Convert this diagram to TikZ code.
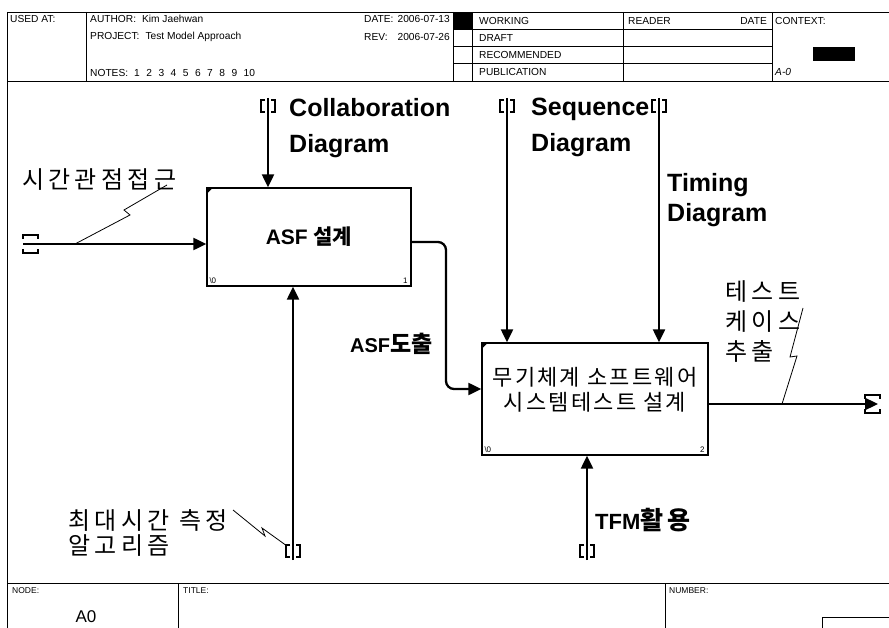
\documentclass[tikz,border=0pt]{standalone}
\usepackage{fontspec}
\setmainfont{Liberation Sans}
\newfontfamily\kr{Noto Sans CJK KR}
\newfontfamily\krw[LetterSpace=18]{Noto Sans CJK KR}
\newfontfamily\krm[LetterSpace=10]{Noto Sans CJK KR}
\usetikzlibrary{arrows.meta}
\newcommand\vtun[2]{%
  \draw[tun] (#1-3,#2-6) -- (#1-7,#2-6) -- (#1-7,#2+6) -- (#1-3,#2+6);
  \draw[tun] (#1+3,#2-6) -- (#1+7,#2-6) -- (#1+7,#2+6) -- (#1+3,#2+6);}
\begin{document}
\begin{tikzpicture}[x=1pt,y=-1pt,
  frame/.style={line width=0.9pt},
  hdr/.style={font=\fontsize{10.2}{12}\selectfont, inner sep=0pt, anchor=west},
  ftr/.style={font=\fontsize{8.5}{10}\selectfont, inner sep=0pt, anchor=west},
  box/.style={draw, line width=1.4pt, inner sep=0pt},
  flow/.style={line width=2.3pt, -{Triangle[length=13pt,width=12pt]}},
  tun/.style={line width=1.8pt},
  squig/.style={line width=0.8pt},
  corner/.style={font=\fontsize{8}{9}\selectfont, inner sep=0pt},
  biglab/.style={font=\fontsize{25}{36}\selectfont\bfseries, inner sep=0pt, align=left},
  krlab/.style={inner sep=0pt, align=left}]
\useasboundingbox (0,0) rectangle (889,628);

% ---------- frame / header ----------
\draw[frame] (7,12) -- (889,12);
\draw[frame] (7,81) -- (889,81);
\draw[frame] (7,12) -- (7,628);
\foreach \xx in {86,453,472,623,772} \draw[frame] (\xx,12) -- (\xx,81);
\foreach \yy in {29,46,63} \draw[frame] (453,\yy) -- (772,\yy);
\fill (453,12) rectangle (472,29);
\fill (813,47) rectangle (855,61);

\node[hdr] (usedat) at (10,19) {USED AT:};
\node[hdr] (author) at (90,19) {AUTHOR:\hspace{6pt}Kim Jaehwan};
\node[hdr] (project) at (90,37) {PROJECT:\hspace{6pt}Test Model Approach};
\node[hdr] (notes) at (90,73) {NOTES:\hspace{6pt}1\hspace{6.5pt}2\hspace{6.5pt}3\hspace{6.5pt}4\hspace{6.5pt}5\hspace{6.5pt}6\hspace{6.5pt}7\hspace{6.5pt}8\hspace{6.5pt}9\hspace{6.5pt}10};
\node[hdr] (datel) at (364,19) {DATE:};
\node[hdr, anchor=east] (datev) at (450,19) {2006-07-13};
\node[hdr] (revl) at (364,37) {REV:};
\node[hdr, anchor=east] (revv) at (450,37) {2006-07-26};
\node[hdr] (working) at (479,20.5) {WORKING};
\node[hdr] (draft) at (479,38) {DRAFT};
\node[hdr] (recom) at (479,55) {RECOMMENDED};
\node[hdr] (public) at (479,72) {PUBLICATION};
\node[hdr] (reader) at (628,20.5) {READER};
\node[hdr, anchor=east] (rdate) at (767,20.5) {DATE};
\node[hdr] (context) at (775,20.5) {CONTEXT:};
\node[hdr] (aa0) at (775,72) {\itshape A-0};

% ---------- footer ----------
\draw[frame] (7,583) -- (889,583);
\draw[frame] (178,583) -- (178,628);
\draw[frame] (665,583) -- (665,628);
\draw[frame] (822,628) -- (822,617) -- (889,617);
\node[ftr] (node) at (12,591) {NODE:};
\node[ftr] (title) at (183,591) {TITLE:};
\node[ftr] (number) at (669,591) {NUMBER:};
\node[inner sep=0pt, font=\fontsize{17}{18}\selectfont] (a0) at (86,616.5) {A0};

% ---------- boxes ----------
\node[box, minimum width=204pt, minimum height=98pt] (b1) at (309,237)
  {\fontsize{21}{24}\selectfont\bfseries ASF {\kr 설계}};
\fill (b1.north west) -- ++(7,0) -- ++(-7,7) -- cycle;
\node[corner, anchor=south west] (b1n) at ([shift={(3,-3)}]b1.south west) {\textbackslash0};
\node[corner, anchor=south east] (b1k) at ([shift={(-4,-3)}]b1.south east) {1};

\node[box, minimum width=226pt, minimum height=112pt] (b2) at (595,399) {};
\node[krlab, align=center, font=\fontsize{22}{25}\selectfont\krm] (b2t) at (595,389.5)
  {무기체계 소프트웨어\\시스템테스트 설계};
\fill (b2.north west) -- ++(7,0) -- ++(-7,7) -- cycle;
\node[corner, anchor=south west] (b2n) at ([shift={(3,-3)}]b2.south west) {\textbackslash0};
\node[corner, anchor=south east] (b2k) at ([shift={(-4,-3)}]b2.south east) {2};

% ---------- ends of arrows ----------
\coordinate (in1) at (23,244);
\coordinate (c1) at (268,98);
\coordinate (m1) at (293,560);
\coordinate (c2) at (507,98);
\coordinate (c3) at (659,98);
\coordinate (m2) at (587,560);
\coordinate (o2) at (878,404);

% ---------- arrows ----------
\draw[flow] (in1) -- (b1.west |- in1);
\draw[flow] (c1) -- (c1 |- b1.north);
\draw[flow] (m1) -- (m1 |- b1.south);
\draw[flow, rounded corners=8pt] (b1.east |- 0,242) -- (446,242) -- (446,389) -- (b2.west |- 0,389);
\draw[flow] (c2) -- (c2 |- b2.north);
\draw[flow] (c3) -- (c3 |- b2.north);
\draw[flow] (m2) -- (m2 |- b2.south);
\draw[flow] (b2.east |- o2) -- (o2);

% ---------- tunnels ----------
\vtun{268}{106}
\vtun{507}{106}
\vtun{659}{106}
\vtun{293}{551}
\vtun{587}{551}
\draw[tun] (23,239) -- (23,235) -- (38,235) -- (38,239);
\draw[tun] (23,249) -- (23,253) -- (38,253) -- (38,249);
\draw[tun] (865,399) -- (865,395) -- (880,395) -- (880,399);
\draw[tun] (865,409) -- (865,413) -- (880,413) -- (880,409);

% ---------- labels ----------
\node[biglab, anchor=north west] (collab) at (289,98) {Collaboration\\Diagram};
\node[biglab, anchor=north west] (seq) at (531,98) {Sequence\\Diagram};
\node[biglab, anchor=north west, font=\fontsize{25}{30}\selectfont\bfseries] (timing) at (667,173) {Timing\\Diagram};

\node[krlab, anchor=west, font=\fontsize{24}{26}\selectfont\krw] (tpa) at (22,180) {시간관점접근};
\node[krlab, anchor=north west, font=\fontsize{24}{25}\selectfont\krw] (maxt) at (68,509) {최대시간 측정\\알고리즘};
\node[krlab, anchor=north west, font=\fontsize{24}{30}\selectfont\krw] (tce) at (725,280) {테스트\\케이스\\추출};
\node[krlab, anchor=west] (asfd) at (350,344) {\fontsize{20}{24}\selectfont\bfseries ASF{\fontsize{23}{24}\selectfont\kr 도출}};
\node[krlab, anchor=west] (tfm) at (595,520) {\fontsize{22}{26}\selectfont\bfseries TFM{\fontsize{25}{26}\selectfont\krw 활용}};

% ---------- squiggles ----------
\draw[squig] (75,244) -- (130,215) -- (124,210) -- (167,185);
\draw[squig] (233,510) -- (265,536) -- (262,528) -- (287,546);
\draw[squig] (803,308) -- (790,357) -- (797,356) -- (782,404);
\end{tikzpicture}
\end{document}
